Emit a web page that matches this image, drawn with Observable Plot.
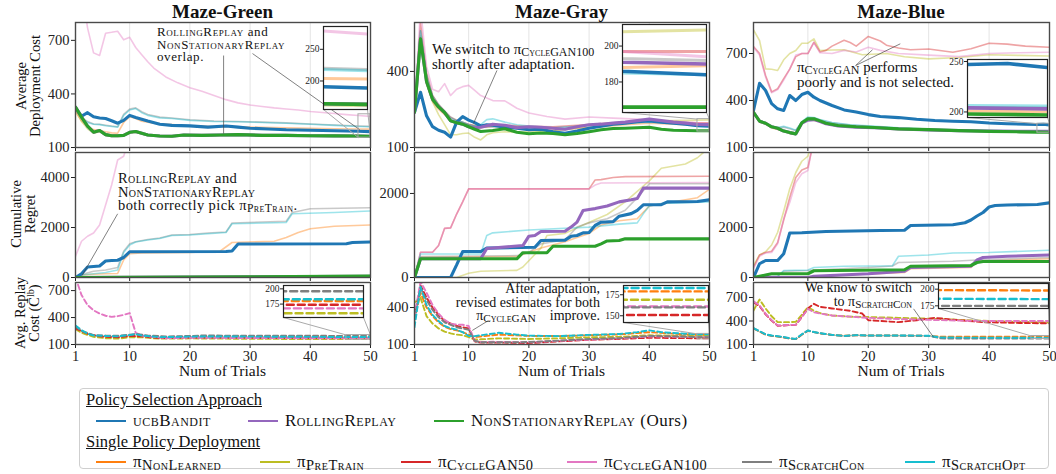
<!DOCTYPE html>
<html><head><meta charset="utf-8">
<script src="https://cdn.jsdelivr.net/npm/d3@7"></script>
<script src="https://cdn.jsdelivr.net/npm/@observablehq/plot@0.6"></script>
<style>
html,body{margin:0;padding:0;background:#fff;}
#root{position:relative;width:1056px;height:474px;overflow:hidden;font-family:"Liberation Serif","DejaVu Serif",serif;color:#111;}
.txt{position:absolute;white-space:nowrap;}
.sc{font-variant:small-caps;}
sub{font-size:0.8em;vertical-align:-0.2em;line-height:0;font-variant:small-caps;}
sup{font-size:0.7em;vertical-align:0.45em;line-height:0;}
.rot{position:absolute;transform:translate(-50%,-50%) rotate(-90deg);text-align:center;white-space:nowrap;font-size:14.5px;line-height:14px;}
.title{position:absolute;transform:translateX(-50%);font-weight:bold;font-size:19px;white-space:nowrap;}
.xl{position:absolute;transform:translateX(-50%);font-size:15.5px;white-space:nowrap;}
.lg{position:absolute;height:0;border-top:2.6px solid;}
.leg{font-size:17px;line-height:19px;letter-spacing:0.5px;}
.leg sub{font-size:0.85em;}
</style></head><body><div id="root"></div>
<script>
// ---------------- DATA (trial, value) ----------------
// Maze-Green : average deployment cost
const greenCostUCB = [[1,322],[2,275],[3,295],[4,272],[5,265],[6,262],[7,250],[8,236],[9,252],[10,280],[11,268],[12,258],[13,248],[15,230],[17,224],[20,221],[23,214],[26,220],[28,214],[30,208],[33,204],[36,199],[40,197],[44,194],[48,191],[50,189]];
const greenCostRolling = [[1,326],[2,270],[3,220],[4,186],[5,195],[6,172],[7,166],[8,166],[9,168],[10,185],[11,190],[12,180],[13,170],[15,164],[17,163],[19,170],[22,168],[25,170],[28,172],[32,168],[36,168],[40,166],[44,165],[48,164],[50,163]];
const greenCostNonStat = [[1,326],[2,270],[3,220],[4,186],[5,195],[6,172],[7,166],[8,166],[9,168],[10,185],[11,190],[12,180],[13,170],[15,164],[17,163],[19,170],[22,168],[25,170],[28,172],[32,168],[36,168],[40,166],[44,165],[48,164],[50,163]];
const greenCostNonLearned = [[1,300],[2,250],[3,215],[4,200],[5,195],[6,188],[7,182],[8,180],[9,240],[10,272],[11,262],[12,247],[14,236],[17,228],[20,222],[24,218],[28,216],[32,213],[36,210],[40,207],[44,205],[48,204],[50,203]];
const greenCostPreTrain = [[1,310],[2,245],[3,205],[4,180],[5,188],[6,168],[7,162],[8,162],[9,165],[10,180],[11,186],[12,176],[13,168],[15,162],[17,161],[19,168],[22,166],[25,168],[28,170],[32,166],[36,166],[40,164],[44,163],[48,162],[50,161]];
const greenCostCycleGAN100 = [[1,1200],[2,1000],[3,770],[4,630],[5,615],[6,740],[7,745],[8,751],[9,703],[10,717],[11,660],[12,620],[13,580],[14,545],[16,495],[18,462],[20,435],[22,415],[24,391],[26,368],[28,350],[30,338],[32,330],[34,322],[36,316],[38,310],[40,302],[42,296],[44,290],[46,284],[48,279],[50,274]];
const greenCostScratchCon = [[1,322],[2,268],[3,245],[4,232],[5,230],[6,225],[7,220],[8,216],[9,285],[10,315],[11,322],[12,300],[13,285],[15,270],[17,265],[20,255],[24,248],[28,246],[32,242],[36,238],[40,232],[44,226],[48,220],[50,218]];
const greenCostScratchOpt = [[1,320],[2,265],[3,240],[4,230],[5,228],[6,222],[7,218],[8,214],[9,280],[10,310],[11,318],[12,295],[13,280],[15,266],[17,262],[20,252],[24,246],[28,244],[32,240],[36,236],[40,230],[44,224],[48,218],[50,216]];
// Maze-Green : cumulative regret
const greenRegretUCB = [[1,0],[2,150],[3,420],[4,440],[5,460],[6,660],[7,680],[8,690],[9,800],[10,1030],[26,1040],[27,1060],[28,1340],[46,1350],[47,1400],[50,1420]];
const greenRegretRolling = [[1,0],[10,10],[30,30],[50,50]];
const greenRegretNonStat = [[1,0],[10,10],[30,30],[50,55]];
const greenRegretNonLearned = [[1,0],[2,100],[4,130],[6,150],[8,160],[9,700],[10,950],[12,980],[20,1000],[25,1050],[27,1400],[34,1450],[36,1600],[38,1800],[40,1950],[44,2050],[50,2100]];
const greenRegretPreTrain = [[1,0],[50,0]];
const greenRegretCycleGAN100 = [[1,850],[2,1450],[3,1650],[4,1780],[5,2100],[6,2900],[7,3700],[8,4700],[9,4850],[10,5600],[12,6500]];
const greenRegretScratchCon = [[1,0],[2,120],[4,250],[6,300],[8,400],[9,1050],[10,1350],[11,1430],[13,1520],[15,1580],[17,1700],[20,1720],[23,1780],[26,1820],[27,2180],[36,2250],[37,2600],[40,2750],[50,2790]];
const greenRegretScratchOpt = [[1,0],[2,100],[4,150],[6,200],[8,300],[9,1000],[10,1300],[11,1420],[13,1500],[15,1560],[17,1680],[20,1700],[23,1750],[26,1800],[27,2150],[36,2200],[37,2550],[44,2600],[50,2660]];
// Maze-Green : average replay cost
const greenReplayNonLearned = [[1,290],[2,245],[4,195],[6,188],[8,182],[10,195],[12,195],[15,175],[20,182],[30,182],[40,181],[46,180],[50,180]];
const greenReplayPreTrain = [[1,270],[2,230],[4,185],[6,170],[8,165],[10,180],[12,180],[15,165],[20,168],[30,163],[40,161],[46,160],[50,160]];
const greenReplayCycleGAN50 = [[1,280],[3,220],[5,190],[8,180],[10,195],[12,190],[15,172],[20,178],[30,176],[40,175],[46,174],[50,174]];
const greenReplayCycleGAN100 = [[1,850],[2,650],[3,540],[4,480],[5,445],[6,420],[7,408],[8,415],[9,430],[10,450],[11,230],[12,200],[13,190],[16,170],[20,175],[30,172],[40,170],[46,168],[50,168]];
const greenReplayScratchCon = [[1,300],[2,250],[4,205],[6,200],[8,198],[10,210],[11,218],[13,200],[16,190],[20,195],[22,200],[30,198],[40,197],[46,196],[50,196]];
const greenReplayScratchOpt = [[1,310],[2,260],[3,220],[4,200],[6,195],[8,190],[10,205],[11,215],[12,200],[15,182],[18,185],[22,190],[30,188],[40,185],[46,183],[50,183]];
// Maze-Gray : average deployment cost
const grayCostUCB = [[1,239],[2,318],[3,225],[4,182],[5,168],[6,160],[7,141],[8,200],[9,222],[10,208],[11,198],[12,185],[13,190],[14,188],[16,180],[18,176],[20,170],[22,172],[24,162],[26,156],[28,165],[30,176],[32,184],[34,192],[36,196],[38,202],[40,205],[42,200],[44,196],[46,192],[48,186],[50,184]];
const grayCostRolling = [[1,239],[2,529],[3,360],[4,290],[5,260],[6,238],[7,205],[8,198],[9,192],[10,182],[11,178],[12,180],[14,192],[16,188],[18,178],[20,182],[22,180],[24,176],[26,172],[28,182],[30,190],[32,192],[34,196],[36,200],[38,206],[40,212],[42,206],[44,200],[46,196],[48,191],[50,190]];
const grayCostNonStat = [[1,239],[2,529],[3,360],[4,290],[5,260],[6,238],[7,205],[8,198],[9,192],[10,182],[11,172],[12,163],[14,167],[16,174],[18,160],[20,154],[22,157],[24,155],[26,150],[28,155],[30,162],[32,170],[34,175],[36,176],[38,178],[40,180],[42,172],[44,168],[46,167],[48,166],[50,166]];
const grayCostNonLearned = [[1,239],[2,520],[3,350],[4,280],[5,250],[6,230],[7,210],[8,200],[9,195],[10,190],[12,178],[14,185],[16,180],[20,172],[24,168],[28,176],[32,182],[36,190],[40,196],[44,192],[48,188],[50,189]];
const grayCostPreTrain = [[1,239],[2,540],[3,360],[4,280],[5,230],[6,190],[7,150],[8,150],[9,155],[10,157],[11,140],[12,130],[13,150],[14,158],[16,162],[18,160],[20,162],[24,165],[28,175],[32,185],[36,195],[40,205],[44,206],[48,208],[50,209]];
const grayCostCycleGAN50 = [[1,245],[2,590],[3,395],[4,305],[5,268],[6,242],[7,218],[8,207],[9,200],[10,192],[12,184],[14,186],[16,188],[20,184],[24,182],[28,188],[32,194],[36,200],[40,206],[44,200],[48,197],[50,197]];
const grayCostCycleGAN100 = [[1,240],[2,650],[3,420],[4,330],[5,320],[6,352],[7,305],[8,330],[9,340],[10,345],[11,325],[12,305],[14,285],[16,284],[18,255],[20,236],[23,222],[26,212],[30,220],[34,216],[38,212],[42,206],[46,200],[50,194]];
const grayCostScratchCon = [[1,239],[2,560],[3,385],[4,305],[5,270],[6,245],[7,220],[8,208],[9,200],[10,190],[12,180],[14,180],[16,185],[20,180],[24,178],[28,185],[32,192],[36,198],[40,205],[44,198],[48,193],[50,192]];
const grayCostScratchOpt = [[1,239],[2,560],[3,380],[4,300],[5,265],[6,240],[7,215],[8,205],[9,200],[10,190],[11,185],[12,190],[13,210],[14,213],[16,200],[18,190],[20,185],[24,178],[28,182],[32,190],[36,196],[40,200],[44,196],[48,185],[50,184]];
// Maze-Gray : cumulative regret
const grayRegretUCB = [[1,0],[7,0],[8,300],[9,618],[12,618],[13,700],[21,720],[22,880],[26,890],[27,980],[28,1000],[29,1063],[30,1070],[31,1238],[32,1316],[34,1330],[35,1459],[37,1520],[38,1600],[39,1730],[42,1735],[43,1800],[48,1810],[50,1850]];
const grayRegretRolling = [[1,0],[2,445],[12,445],[13,690],[19,760],[20,983],[21,1000],[22,1095],[26,1100],[27,1200],[28,1317],[29,1595],[30,1620],[31,1640],[33,1700],[35,1800],[37,1850],[38,1880],[39,2126],[50,2126]];
const grayRegretNonStat = [[1,0],[2,445],[18,445],[19,590],[23,590],[24,745],[31,745],[32,800],[33,870],[35,880],[36,920],[50,920]];
const grayRegretNonLearned = [[1,0],[2,480],[18,500],[22,700],[26,850],[28,950],[30,1050],[32,1250],[35,1350],[38,1400],[40,1700],[44,1800],[48,1900],[50,2100]];
const grayRegretPreTrain = [[1,0],[8,0],[10,100],[12,150],[18,170],[19,250],[22,700],[23,1000],[26,1050],[29,1250],[33,1500],[36,1800],[38,2050],[40,2300],[42,2600],[46,2700],[48,2850],[50,3100]];
const grayRegretCycleGAN50 = [[1,0],[2,600],[4,600],[5,760],[6,1170],[7,1180],[8,1510],[9,1800],[10,2110],[30,2110],[31,2320],[32,2330],[34,2380],[36,2400],[50,2410]];
const grayRegretCycleGAN100 = [[1,0],[2,600],[4,600],[5,760],[6,1170],[7,1180],[8,1510],[9,1800],[10,2110],[30,2110],[31,2200],[32,2250],[50,2260]];
const grayRegretScratchCon = [[1,0],[2,500],[18,520],[20,600],[22,800],[26,900],[28,1200],[30,1300],[33,1400],[36,1600],[38,1900],[40,2230],[50,2230]];
const grayRegretScratchOpt = [[1,0],[2,560],[12,560],[13,1000],[14,1063],[20,1130],[30,1200],[35,1270],[38,1300],[39,1515],[40,1700],[42,1760],[50,1800]];
// Maze-Gray : average replay cost
const grayReplayNonLearned = [[1,300],[2,520],[3,400],[4,330],[5,280],[6,245],[7,225],[8,215],[9,200],[10,180],[11,160],[12,165],[15,180],[20,170],[25,168],[30,175],[35,182],[40,200],[45,185],[48,179],[50,179]];
const grayReplayPreTrain = [[1,440],[2,480],[3,330],[4,270],[5,230],[6,205],[7,190],[8,180],[9,175],[10,160],[11,140],[12,142],[15,150],[20,145],[25,150],[30,158],[35,162],[40,175],[45,170],[48,169],[50,169]];
const grayReplayCycleGAN50 = [[1,320],[2,580],[3,480],[4,400],[5,340],[6,290],[8,250],[10,230],[11,125],[12,115],[16,115],[20,112],[25,125],[30,138],[35,145],[40,155],[45,152],[48,151],[50,151]];
const grayReplayCycleGAN100 = [[1,330],[2,610],[3,520],[4,420],[5,350],[6,300],[7,268],[8,262],[9,260],[10,250],[11,130],[12,120],[14,122],[16,120],[20,118],[25,130],[30,140],[35,150],[40,165],[45,163],[48,161],[50,161]];
const grayReplayScratchCon = [[1,300],[2,560],[3,460],[4,380],[5,320],[6,280],[8,240],[10,220],[11,130],[12,118],[16,118],[20,120],[25,132],[30,145],[35,152],[40,170],[45,165],[48,160],[50,160]];
const grayReplayScratchOpt = [[1,240],[2,570],[3,420],[4,340],[5,290],[6,250],[7,232],[8,220],[9,200],[10,170],[11,168],[12,175],[15,195],[18,180],[20,172],[25,168],[30,178],[35,185],[38,200],[40,215],[42,200],[45,190],[48,183],[50,183]];
// Maze-Blue : average deployment cost
const blueCostUCB = [[1,336],[2,510],[3,464],[4,380],[5,347],[6,336],[7,432],[8,400],[9,438],[10,453],[11,421],[12,400],[14,368],[16,340],[18,327],[20,310],[22,298],[25,291],[28,280],[31,272],[34,268],[37,264],[40,256],[43,252],[46,248],[48,247],[49,248],[50,244]];
const blueCostRolling = [[1,325],[2,268],[3,255],[4,232],[5,223],[6,205],[7,195],[8,187],[9,255],[10,275],[11,278],[12,265],[13,252],[15,238],[18,230],[21,226],[25,218],[30,212],[35,208],[40,205],[45,204],[48,204],[50,203]];
const blueCostNonStat = [[1,325],[2,268],[3,255],[4,232],[5,223],[6,205],[7,195],[8,187],[9,258],[10,283],[11,284],[12,270],[13,255],[15,240],[18,232],[21,228],[25,219],[30,214],[35,208],[40,203],[45,200],[48,198],[50,197]];
const blueCostNonLearned = [[1,320],[2,262],[3,250],[4,225],[5,215],[6,205],[7,190],[8,185],[9,250],[10,280],[12,265],[15,240],[20,228],[25,218],[30,212],[40,205],[50,200]];
const blueCostPreTrain = [[1,850],[2,783],[3,602],[4,600],[5,592],[6,660],[7,700],[8,719],[9,766],[10,766],[11,794],[12,719],[14,722],[16,724],[19,692],[23,700],[26,679],[30,666],[35,675],[40,692],[45,688],[50,684]];
const blueCostCycleGAN50 = [[1,745],[2,700],[3,560],[4,455],[5,475],[6,540],[7,600],[8,680],[9,700],[10,700],[11,772],[12,710],[13,720],[14,747],[16,785],[17,770],[18,747],[20,809],[22,780],[23,753],[25,735],[27,724],[30,729],[34,708],[37,730],[40,766],[43,760],[46,747],[50,740]];
const blueCostCycleGAN100 = [[1,740],[2,690],[3,550],[4,450],[5,470],[6,530],[7,600],[8,690],[9,700],[10,700],[11,770],[12,705],[14,700],[16,720],[18,710],[20,740],[22,720],[25,700],[30,690],[35,680],[40,700],[45,705],[50,708]];
const blueCostScratchCon = [[1,322],[2,265],[3,252],[4,232],[5,225],[6,230],[7,220],[8,208],[9,262],[10,290],[11,288],[12,275],[14,258],[17,243],[20,236],[25,223],[30,216],[35,210],[40,207],[45,205],[50,204]];
const blueCostScratchOpt = [[1,322],[2,268],[3,255],[4,235],[5,228],[6,235],[7,225],[8,210],[9,265],[10,295],[11,292],[12,278],[14,260],[17,245],[20,238],[25,225],[30,218],[35,212],[40,209],[45,207],[50,206]];
// Maze-Blue : cumulative regret
const blueRegretUCB = [[1,0],[2,550],[3,680],[5,680],[6,950],[7,1780],[9,1790],[13,1840],[22,1880],[26,1890],[27,2080],[34,2107],[36,2190],[37,2300],[38,2460],[39,2600],[40,2820],[41,2880],[43,2900],[48,2920],[50,2990]];
const blueRegretRolling = [[1,0],[10,0],[11,50],[20,150],[26,250],[27,400],[37,450],[38,700],[39,800],[43,850],[50,900]];
const blueRegretNonStat = [[1,0],[3,100],[4,150],[10,150],[11,270],[26,310],[27,450],[37,480],[38,600],[39,640],[50,640]];
const blueRegretNonLearned = [[1,0],[10,0],[11,50],[26,200],[27,350],[37,400],[38,650],[50,750]];
const blueRegretPreTrain = [[1,480],[2,900],[3,1030],[4,1300],[5,1810],[6,2650],[7,3550],[8,4200],[9,4650],[10,4850],[11,5600],[12,6500]];
const blueRegretCycleGAN50 = [[1,400],[2,900],[3,1000],[4,1050],[5,1400],[6,2300],[7,3200],[8,4000],[9,4300],[10,4400],[11,5500],[12,6500]];
const blueRegretCycleGAN100 = [[1,350],[2,850],[3,980],[4,1000],[5,1350],[6,2350],[7,3000],[8,3800],[9,4150],[10,4280],[11,5600],[12,6600]];
const blueRegretScratchCon = [[1,0],[5,50],[6,250],[10,280],[11,300],[20,400],[24,460],[25,600],[34,650],[38,700],[50,800]];
const blueRegretScratchOpt = [[1,0],[5,50],[6,280],[10,300],[11,400],[16,450],[24,470],[25,850],[30,900],[34,980],[40,1000],[50,1090]];
// Maze-Blue : average replay cost
const blueReplayNonLearned = [[1,305],[2,265],[3,225],[4,210],[5,200],[6,190],[7,175],[8,168],[9,225],[10,275],[11,258],[12,242],[14,222],[16,212],[18,218],[20,214],[25,214],[30,210],[32,200],[35,199],[40,199],[45,199],[50,198]];
const blueReplayPreTrain = [[1,534],[2,674],[3,560],[4,460],[5,385],[6,385],[7,385],[8,390],[9,480],[10,576],[11,530],[12,500],[14,470],[17,455],[20,450],[25,440],[30,430],[35,415],[40,400],[45,390],[50,380]];
const blueReplayCycleGAN50 = [[1,640],[2,590],[3,485],[4,405],[5,340],[6,342],[7,348],[8,350],[9,450],[10,560],[11,619],[12,580],[14,560],[17,530],[19,495],[20,410],[22,400],[25,385],[28,410],[31,440],[35,410],[39,385],[45,375],[50,370]];
const blueReplayCycleGAN100 = [[1,650],[2,600],[3,492],[4,410],[5,342],[6,345],[7,350],[8,352],[9,450],[10,555],[11,510],[12,495],[14,470],[17,455],[20,440],[25,425],[30,415],[35,405],[40,400],[45,400],[50,400]];
const blueReplayScratchCon = [[1,306],[2,268],[3,228],[4,212],[5,204],[6,192],[7,178],[8,170],[9,228],[10,277],[11,258],[12,243],[14,222],[16,208],[18,218],[20,213],[25,213],[30,210],[32,178],[35,176],[40,175],[45,175],[50,175]];
const blueReplayScratchOpt = [[1,308],[2,270],[3,230],[4,215],[5,206],[6,195],[7,180],[8,172],[9,230],[10,279],[11,260],[12,245],[14,223],[16,210],[18,220],[20,215],[25,215],[30,212],[32,190],[35,188],[40,187],[45,186],[50,185]];

// tick values
const trialTicks = [1,10,20,30,40,50];
const gridTrials = [10,20,30,40];

// ---------------- STYLE / LAYOUT ----------------
const FONT = '"Liberation Serif","DejaVu Serif",serif';
const COLOR = {ucb:"#1f77b4", rolling:"#9467bd", nonstat:"#2ca02c", nonlearned:"#ff7f0e", pretrain:"#bcbd22", cyclegan50:"#d62728", cyclegan100:"#e377c2", scratchcon:"#7f7f7f", scratchopt:"#17becf"};
const SINGLES = ["nonlearned","pretrain","cyclegan50","cyclegan100","scratchcon","scratchopt"];
const ORDER = [...SINGLES, "ucb", "rolling", "nonstat"];
const COLS = {green:{left:75,right:370}, gray:{left:414,right:709}, blue:{left:753,right:1049}};
const ROWS = {cost:{top:22,bottom:147}, regret:{top:152,bottom:277}, replay:{top:282,bottom:344}};

const panels = [
  {env:"green", metric:"cost", domain:[100,800], ticks:[100,400,700],
   series:{ucb:greenCostUCB, rolling:greenCostRolling, nonstat:greenCostNonStat, nonlearned:greenCostNonLearned, pretrain:greenCostPreTrain, cyclegan100:greenCostCycleGAN100, scratchcon:greenCostScratchCon, scratchopt:greenCostScratchOpt},
   leaders:[[25.6,615,25.6,178],[30.4,626,48.2,200]],
   inset:{px:[323,26,367,109], x:[48,50], y:[155,286], ticks:[200,250], conn:[["BL","BL"],["BR","BR"]]}},
  {env:"green", metric:"regret", domain:[0,5000], ticks:[0,2000,4000],
   series:{ucb:greenRegretUCB, rolling:greenRegretRolling, nonstat:greenRegretNonStat, nonlearned:greenRegretNonLearned, pretrain:greenRegretPreTrain, cyclegan100:greenRegretCycleGAN100, scratchcon:greenRegretScratchCon, scratchopt:greenRegretScratchOpt},
   leaders:[[8.0,2548,2.1,80]]},
  {env:"green", metric:"replay", domain:[100,790], ticks:[100,400,700],
   series:{nonlearned:greenReplayNonLearned, pretrain:greenReplayPreTrain, cyclegan50:greenReplayCycleGAN50, cyclegan100:greenReplayCycleGAN100, scratchcon:greenReplayScratchCon, scratchopt:greenReplayScratchOpt},
   leaders:[],
   inset:{px:[283,285,363,317], x:[46,50], y:[153,205.5], ticks:[175,200], conn:[["BL","TL"],["BR","TR"]]}},
  {env:"gray", metric:"cost", domain:[100,593], ticks:[100,400],
   series:{ucb:grayCostUCB, rolling:grayCostRolling, nonstat:grayCostNonStat, nonlearned:grayCostNonLearned, pretrain:grayCostPreTrain, cyclegan50:grayCostCycleGAN50, cyclegan100:grayCostCycleGAN100, scratchcon:grayCostScratchCon, scratchopt:grayCostScratchOpt},
   leaders:[[14.7,404,10.8,195]],
   inset:{px:[622,24,706,112], x:[48,50], y:[163,212], ticks:[180,200], conn:[["BL","TL"],["BR","TR"]]}},
  {env:"gray", metric:"regret", domain:[0,2975], ticks:[0,2000],
   series:{ucb:grayRegretUCB, rolling:grayRegretRolling, nonstat:grayRegretNonStat, nonlearned:grayRegretNonLearned, pretrain:grayRegretPreTrain, cyclegan50:grayRegretCycleGAN50, cyclegan100:grayRegretCycleGAN100, scratchcon:grayRegretScratchCon, scratchopt:grayRegretScratchOpt},
   leaders:[]},
  {env:"gray", metric:"replay", domain:[100,603], ticks:[100,400],
   series:{nonlearned:grayReplayNonLearned, pretrain:grayReplayPreTrain, cyclegan50:grayReplayCycleGAN50, cyclegan100:grayReplayCycleGAN100, scratchcon:grayReplayScratchCon, scratchopt:grayReplayScratchOpt},
   leaders:[[13.3,295,10.6,214]],
   inset:{px:[623,285,708,322], x:[48,50], y:[142,186], ticks:[150,175], conn:[["BL","TL"],["BR","TR"]]}},
  {env:"blue", metric:"cost", domain:[100,898], ticks:[100,400,700],
   series:{ucb:blueCostUCB, rolling:blueCostRolling, nonstat:blueCostNonStat, nonlearned:blueCostNonLearned, pretrain:blueCostPreTrain, cyclegan50:blueCostCycleGAN50, cyclegan100:blueCostCycleGAN100, scratchcon:blueCostScratchCon, scratchopt:blueCostScratchOpt},
   leaders:[[17.9,623,20.7,724],[17.9,623,25.3,762]],
   inset:{px:[967,59,1047,117], x:[48,50], y:[194.5,252], ticks:[200,250], conn:[["BL","TL"],["BR","TR"]]}},
  {env:"blue", metric:"regret", domain:[0,5000], ticks:[0,2000,4000],
   series:{ucb:blueRegretUCB, rolling:blueRegretRolling, nonstat:blueRegretNonStat, nonlearned:blueRegretNonLearned, pretrain:blueRegretPreTrain, cyclegan50:blueRegretCycleGAN50, cyclegan100:blueRegretCycleGAN100, scratchcon:blueRegretScratchCon, scratchopt:blueRegretScratchOpt},
   leaders:[]},
  {env:"blue", metric:"replay", domain:[100,891], ticks:[100,400,700],
   series:{nonlearned:blueReplayNonLearned, pretrain:blueReplayPreTrain, cyclegan50:blueReplayCycleGAN50, cyclegan100:blueReplayCycleGAN100, scratchcon:blueReplayScratchCon, scratchopt:blueReplayScratchOpt},
   leaders:[[27.5,555,30.8,193]],
   inset:{px:[938,283,1048,308], x:[47,50], y:[171,208.5], ticks:[175,200], conn:[["BL","TL"],["BR","TR"]]}}
];

const root = document.getElementById("root");
function place(el, left, top){
  el.style.position = "absolute"; el.style.left = left + "px"; el.style.top = top + "px";
  root.appendChild(el);
}
function html(cls, left, top, inner, extra){
  const d = document.createElement("div");
  d.className = cls; d.innerHTML = inner;
  d.style.left = left + "px"; d.style.top = top + "px";
  if (extra) Object.assign(d.style, extra);
  root.appendChild(d);
  return d;
}

function lineMarks(series, metric, inInset){
  const marks = [];
  for (const k of ORDER){
    const d = series[k]; if (!d) continue;
    const single = SINGLES.includes(k);
    const dashed = metric === "replay";
    const rows = d.map(([t, v]) => ({t, v}));
    let sw = single ? (dashed ? 1.9 : 1.6) : 3.1;
    if (inInset) sw = single ? (dashed ? 2.4 : 3) : 3.6;
    marks.push(Plot.line(rows, {
      x: "t", y: "v", stroke: COLOR[k], strokeWidth: sw,
      strokeOpacity: (single && !dashed) ? 0.42 : 1,
      strokeDasharray: dashed ? (inInset ? "7,4" : "5,3") : null,
      clip: true
    }));
  }
  return marks;
}

function drawPanel(p){
  const c = COLS[p.env], r = ROWS[p.metric];
  const ML = 48, MR = 8, MT = 8, MB = p.metric === "replay" ? 26 : 8;
  const width = c.right - c.left + ML + MR, height = r.bottom - r.top + MT + MB;
  const inv = (px, py) => [1 + (px - c.left) / (c.right - c.left) * 49,
                           p.domain[0] + (r.bottom - py) / (r.bottom - r.top) * (p.domain[1] - p.domain[0])];
  const extra = [];
  if (p.leaders.length) {
    extra.push(Plot.link(p.leaders.map(([x1,y1,x2,y2]) => ({x1,y1,x2,y2})),
      {x1:"x1", y1:"y1", x2:"x2", y2:"y2", stroke:"#444", strokeWidth:0.8, strokeOpacity:0.85}));
  }
  if (p.inset) {
    const ins = p.inset, [x0,y0,x1,y1] = ins.px;
    const box = {BL:[ins.x[0],ins.y[0]], TL:[ins.x[0],ins.y[1]], BR:[ins.x[1],ins.y[0]], TR:[ins.x[1],ins.y[1]]};
    const corner = {BL:inv(x0,y1), BR:inv(x1,y1), TL:inv(x0,y0), TR:inv(x1,y0)};
    extra.push(Plot.rect([{x1:ins.x[0], x2:ins.x[1], y1:ins.y[0], y2:ins.y[1]}],
      {x1:"x1", x2:"x2", y1:"y1", y2:"y2", fill:"none", stroke:"#aaa", strokeWidth:1}));
    extra.push(Plot.link(ins.conn.map(([a,b]) => ({x1:corner[a][0], y1:corner[a][1], x2:box[b][0], y2:box[b][1]})),
      {x1:"x1", y1:"y1", x2:"x2", y2:"y2", stroke:"#aaa", strokeWidth:1}));
  }
  const svg = Plot.plot({
    width, height, marginLeft: ML, marginRight: MR, marginTop: MT, marginBottom: MB,
    x: {domain: [1, 50], ticks: trialTicks, tickSize: 4, tickPadding: 2, label: null,
        tickFormat: p.metric === "replay" ? (d => String(d)) : (() => "")},
    y: {domain: p.domain, ticks: p.ticks, tickSize: 4, tickPadding: 2, label: null, tickFormat: d => String(d)},
    style: {fontFamily: FONT, fontSize: "14.5px", background: "none", overflow: "visible", color: "#222"},
    marks: [
      Plot.ruleX(gridTrials, {stroke: "#e4e4e4", strokeWidth: 1}),
      ...lineMarks(p.series, p.metric, false),
      ...extra,
      Plot.frame({stroke: "#4a4a4a", strokeWidth: 1.4})
    ]
  });
  place(svg, c.left - ML, r.top - MT);
}

function drawInset(p){
  const ins = p.inset, [x0,y0,x1,y1] = ins.px;
  const ML = 24;
  const svg = Plot.plot({
    width: x1 - x0 + ML + 1, height: y1 - y0 + 2,
    marginLeft: ML, marginRight: 1, marginTop: 1, marginBottom: 1,
    x: {domain: ins.x, axis: null},
    y: {domain: ins.y, ticks: ins.ticks, tickSize: 3, tickPadding: 1, label: null, tickFormat: d => String(d)},
    style: {fontFamily: FONT, fontSize: "9.5px", background: "none", overflow: "visible", color: "#222"},
    marks: [
      Plot.frame({fill: "white", stroke: "none"}),
      ...lineMarks(p.series, p.metric, true),
      Plot.frame({stroke: "#222", strokeWidth: 1.2})
    ]
  });
  place(svg, x0 - ML, y0 - 1);
}

for (const p of panels) drawPanel(p);
for (const p of panels) if (p.inset) drawInset(p);

// titles & axis labels
const envTitles = {green:"Maze-Green", gray:"Maze-Gray", blue:"Maze-Blue"};
for (const [env, c] of Object.entries(COLS)) {
  html("title", (c.left + c.right) / 2, 1, envTitles[env]);
  html("xl", (c.left + c.right) / 2, 362, "Num of Trials");
}
html("rot", 28, 86, "Average<br>Deployment Cost");
html("rot", 23, 214, "Cumulative<br>Regret");
html("rot", 27, 313, "Avg. Replay<br>Cost (C\u0304<sup>lb</sup>)");

// annotations
const pi = (s) => `π<sub>${s}</sub>`;
html("txt", 157, 26, `<span class="sc">RollingReplay</span> and<br><span class="sc">NonStationaryReplay</span><br>overlap.`, {fontSize:"13px", lineHeight:"12.5px", letterSpacing:"0.6px"});
html("txt", 432, 42, `We switch to ${pi("CycleGAN100")}<br>shortly after adaptation.`, {fontSize:"15px", lineHeight:"15px"});
html("txt", 797, 60, `${pi("CycleGAN")} performs<br>poorly and is not selected.`, {fontSize:"15px", lineHeight:"15px"});
html("txt", 118, 172, `<span class="sc">RollingReplay</span> and<br><span class="sc">NonStationaryReplay</span><br>both correctly pick ${pi("PreTrain")}.`, {fontSize:"14.5px", lineHeight:"13.5px", letterSpacing:"0.4px"});
html("txt", 400, 282, `After adaptation,<br>revised estimates for both<br><span style="margin-right:14px">${pi("CycleGAN")}</span>improve.`, {fontSize:"14px", lineHeight:"13.5px", width:"200px", textAlign:"right"});
html("txt", 712, 281, `We know to switch<br>to ${pi("ScratchCon")}`, {fontSize:"14px", lineHeight:"14px", width:"200px", textAlign:"right"});

// legend
const legendBox = document.createElement("div");
Object.assign(legendBox.style, {position:"absolute", left:"79px", top:"388px", width:"970px", height:"81px", border:"1px solid #cfcfcf", borderRadius:"4px", boxSizing:"border-box"});
root.appendChild(legendBox);
html("txt", 86, 391, "Policy Selection Approach", {fontSize:"16.5px", textDecoration:"underline", lineHeight:"18px"});
html("txt", 86, 433, "Single Policy Deployment", {fontSize:"16.5px", textDecoration:"underline", lineHeight:"18px"});
const legendRow1 = [["ucb", 96, `<span class="sc">ucbBandit</span>`], ["rolling", 248, `<span class="sc">RollingReplay</span>`], ["nonstat", 434, `<span class="sc">NonStationaryReplay</span> (Ours)`]];
const legendRow2 = [["nonlearned", 96, pi("NonLearned")], ["pretrain", 260, pi("PreTrain")], ["cyclegan50", 401, pi("CycleGAN50")], ["cyclegan100", 567, pi("CycleGAN100")], ["scratchcon", 742, pi("ScratchCon")], ["scratchopt", 905, pi("ScratchOpt")]];
for (const [rowItems, y] of [[legendRow1, 421], [legendRow2, 462]]) {
  for (const [k, x, label] of rowItems) {
    html("lg", x, y - 1, "", {width:"30px", borderTopColor: COLOR[k]});
    html("txt leg", x + 37, y - 10, label);
  }
}
</script></body></html>
